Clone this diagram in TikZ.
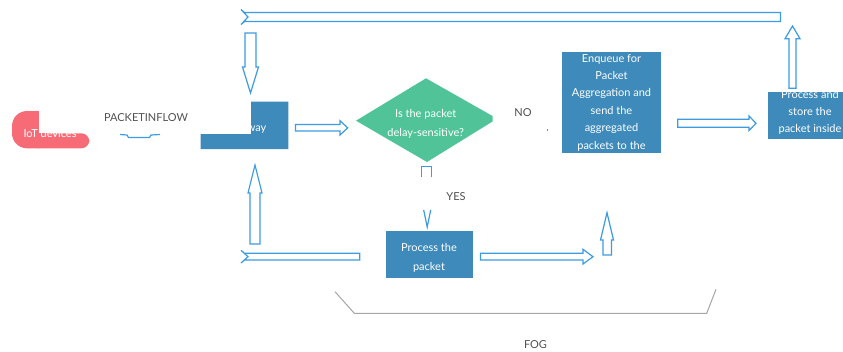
\documentclass[tikz,border=0pt]{standalone}
\usepackage{fontspec}
\setmainfont{Lato}
\definecolor{boxblue}{RGB}{62,138,186}
\definecolor{dgreen}{RGB}{80,196,152}
\definecolor{iotpink}{RGB}{246,107,118}
\definecolor{arrowblue}{RGB}{60,155,225}
\definecolor{textgray}{RGB}{80,80,80}
\definecolor{linegray}{RGB}{165,165,165}
\tikzset{
  arr/.style={draw=arrowblue, line width=1.2pt, fill=white, line join=miter},
  arrline/.style={draw=arrowblue, line width=1.2pt},
  gtext/.style={text=textgray, inner sep=0pt, font=\fontsize{11}{13}\selectfont},
  wtext/.style={text=white, inner sep=0pt, align=center},
}
\begin{document}
\begin{tikzpicture}[x=1pt,y=-1pt]
\useasboundingbox (0,0) rectangle (843,351);
\begin{scope}
\clip (0,0) rectangle (843,351);
% IoT devices shape
\fill[iotpink, rounded corners=15pt] (12,111) rectangle (52,148.3);
\fill[iotpink, rounded corners=8pt] (30,133.3) rectangle (89.3,148.3);
\fill[white] (39.3,104) rectangle (94,133.3);
\node[wtext, font=\fontsize{11}{13}\selectfont] (iot) at (50,133) {IoT devices};
% Gateway
\fill[boxblue] (251,101.7) -- (288.3,101.7) -- (288.3,149) -- (200.7,149) -- (200.7,134) -- (251,134) -- cycle;
\node[wtext, font=\fontsize{11}{13}\selectfont] (gw) at (245,128) {Gateway};
% Diamond
\fill[dgreen] (356,120.7) -- (426,78.3) -- (492.5,116) -- (492.5,121.5) -- (427,162) -- cycle;
\node[wtext, font=\fontsize{11}{19}\selectfont] (q) at (425.7,123.8) {Is the packet\\delay-sensitive?};
% Enqueue box
\fill[boxblue] (561.7,51.7) rectangle (661,153.3);
\node[wtext, font=\fontsize{11}{17.4}\selectfont] (enq) at (611.5,102.6) {Enqueue for\\Packet\\Aggregation and\\send the\\aggregated\\packets to the};
% Process and store box
\fill[boxblue] (767.7,92.3) rectangle (850,139.3);
\node[wtext, font=\fontsize{11}{17.2}\selectfont] (store) at (810,112.2) {Process and\\store the\\packet inside};
% Process the packet box
\fill[boxblue] (385.7,230.7) rectangle (472.7,278.3);
\node[wtext, font=\fontsize{11}{19}\selectfont] (proc) at (429,257.8) {Process the\\packet};
% Block arrows
\draw[arr] (780.5,12.5) -- (244.5,12.5) -- (241,9.5) -- (248,17) -- (241,24.5) -- (244.5,21.5) -- (780.5,21.5) -- cycle;
\draw[arr] (245,33) -- (256,33) -- (256,67) -- (258.5,67) -- (250.5,93) -- (242.5,67) -- (245,67) -- cycle;
\draw[arr] (250,244) -- (260,244) -- (260,193) -- (262,193) -- (255,165) -- (248,193) -- (250,193) -- cycle;
\draw[arr] (359.7,253.3) -- (244.5,253.3) -- (241,250.3) -- (248,256.7) -- (241,263) -- (244.5,260) -- (359.7,260) -- cycle;
\draw[arr] (480.5,253.3) -- (583,253.3) -- (583,249.3) -- (593,256.7) -- (583,264) -- (583,260) -- (480.5,260) -- cycle;
\draw[arr] (603,255) -- (611.5,255) -- (611.5,240) -- (613.5,240) -- (607,212.7) -- (600.5,240) -- (603,240) -- cycle;
\draw[arr] (295.5,124.5) -- (340,124.5) -- (340,120.7) -- (347.7,127.8) -- (340,135) -- (340,131) -- (295.5,131) -- cycle;
\draw[arr] (677.7,119.3) -- (749,119.3) -- (749,116) -- (756,123.3) -- (749,130.5) -- (749,127.3) -- (677.7,127.3) -- cycle;
\draw[arr] (789,88.3) -- (796,88.3) -- (796,38.7) -- (800,38.7) -- (792.5,26) -- (785,38.7) -- (789,38.7) -- cycle;
% YES arrow remnants
\draw[arrline] (421.7,177) -- (421.7,166.7) -- (431.7,166.7) -- (431.7,177);
\draw[arrline] (423.7,210) -- (427.2,227) -- (430.7,210);
% PACKETINFLOW arrow remnant
\draw[arrline] (120,134.5) -- (127,135) -- (128.5,137.5) -- (149.5,137.5) -- (151,135) -- (160,134.5);
% dot
\fill[arrowblue] (546.5,129) rectangle (548,130.5);
% FOG bracket
\draw[linegray, line width=1pt] (335,291.7) -- (354.3,313.3) -- (706.7,313.3) -- (716,289.3);
% labels
\node[gtext] (inflow) at (146,117.5) {PACKETINFLOW};
\node[gtext] (no) at (523,113) {NO};
\node[gtext] (yes) at (456,196.7) {YES};
\node[gtext] (fog) at (535.5,344.5) {FOG};
\end{scope}
\end{tikzpicture}
\end{document}
